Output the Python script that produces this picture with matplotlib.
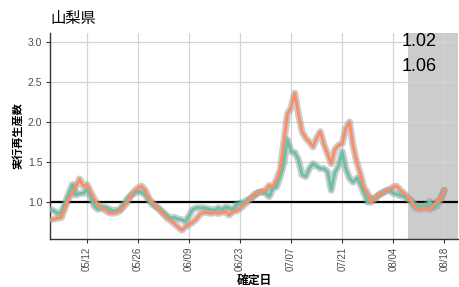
import matplotlib
matplotlib.use("Agg")
from matplotlib import pyplot as plt
import pandas as pd

plt.rcParams['font.family'] = ['Liberation Sans', 'Noto Sans CJK JP']

# daily values from 05/02 to 08/18
dates = pd.date_range("2022-05-02", "2022-08-18", freq="D")

rt_green = [0.91, 0.89, 0.86, 0.88, 0.98, 1.11, 1.22, 1.09, 1.11, 1.11,
            1.16, 1.06, 0.95, 0.91, 0.93, 0.94, 0.92, 0.89, 0.90, 0.91,
            0.97, 1.04, 1.08, 1.11, 1.13, 1.12, 1.09, 1.02, 0.97, 0.94,
            0.91, 0.87, 0.83, 0.80, 0.81, 0.79, 0.78, 0.76, 0.83, 0.91,
            0.93, 0.93, 0.93, 0.92, 0.91, 0.90, 0.93, 0.91, 0.94, 0.93,
            0.91, 0.97, 0.99, 1.00, 1.03, 1.05, 1.08, 1.12, 1.13, 1.11,
            1.07, 1.17, 1.19, 1.32, 1.48, 1.78, 1.63, 1.62, 1.53, 1.34,
            1.32, 1.42, 1.48, 1.45, 1.42, 1.42, 1.38, 1.15, 1.37, 1.45,
            1.63, 1.42, 1.30, 1.25, 1.30, 1.22, 1.11, 1.00, 1.05, 1.04,
            1.09, 1.11, 1.14, 1.15, 1.11, 1.10, 1.08, 1.07, 1.04, 1.02,
            0.96, 0.95, 0.95, 0.95, 1.01, 0.93, 0.95, 1.05, 1.15]

rt_orange = [0.78, 0.79, 0.80, 0.81, 0.93, 1.05, 1.11, 1.20, 1.29, 1.20,
             1.22, 1.13, 1.04, 0.97, 0.93, 0.90, 0.87, 0.86, 0.87, 0.89,
             0.94, 0.99, 1.08, 1.14, 1.18, 1.20, 1.15, 1.05, 0.99, 0.95,
             0.90, 0.85, 0.80, 0.77, 0.73, 0.69, 0.65, 0.69, 0.72, 0.75,
             0.79, 0.85, 0.87, 0.87, 0.86, 0.87, 0.86, 0.87, 0.88, 0.84,
             0.88, 0.89, 0.92, 0.96, 1.00, 1.05, 1.10, 1.12, 1.13, 1.15,
             1.21, 1.19, 1.28, 1.40, 1.75, 2.10, 2.18, 2.36, 2.10, 1.88,
             1.80, 1.75, 1.69, 1.80, 1.88, 1.72, 1.60, 1.48, 1.66, 1.71,
             1.73, 1.92, 2.00, 1.70, 1.50, 1.35, 1.18, 1.11, 1.00, 1.05,
             1.09, 1.12, 1.14, 1.16, 1.19, 1.20, 1.15, 1.11, 1.06, 1.01,
             0.93, 0.91, 0.92, 0.92, 0.91, 0.96, 1.01, 1.03, 1.15]

latest_values = ["1.02", "1.06"]

fig = plt.figure(figsize=(4.59, 2.87), dpi=100)
ax = fig.add_axes([0.109, 0.167, 0.889, 0.718])

x_start = pd.Timestamp("2022-05-02") - pd.Timedelta(hours=3)
x_end = pd.Timestamp("2022-08-21") + pd.Timedelta(hours=19)
ax.axvspan(pd.Timestamp("2022-08-08"), x_end, color='#cccccc', zorder=0.5, lw=0)

ax.axhline(1.0, color='black', lw=1.6, zorder=2)

# gray halo under each line, then the lines
for vals in [rt_green, rt_orange]:
    ax.plot(dates, vals, color='#999999', alpha=0.5, lw=5,
            solid_capstyle='round', zorder=3)
ax.plot(dates, rt_green, color='#66c2a5', lw=2.0, zorder=4)
ax.plot(dates, rt_orange, color='#fc8d62', lw=2.0, zorder=4)

ax.set_xlim(x_start, x_end)
ax.set_ylim(0.54, 3.11)

ticks = pd.date_range("2022-05-12", "2022-08-18", freq="14D")
ax.set_xticks(ticks)
ax.set_xticklabels([t.strftime("%m/%d") for t in ticks], rotation=90)
ax.set_yticks([1.0, 1.5, 2.0, 2.5, 3.0])
ax.set_yticklabels(["1.0", "1.5", "2.0", "2.5", "3.0"])

ax.grid(True, color='#d4d4d4', lw=0.9)
ax.set_axisbelow(True)
for s in ['top', 'right']:
    ax.spines[s].set_visible(False)
for s in ['left', 'bottom']:
    ax.spines[s].set_color('#333333')
    ax.spines[s].set_linewidth(1.0)
ax.tick_params(axis='both', colors='#333333', labelcolor='#4d4d4d',
               labelsize=7, length=3, width=0.8, pad=2.5)
ax.tick_params(axis='y', labelsize=7.5)

ax.set_xlabel("確定日", fontsize=8.5, fontweight='bold')
ax.xaxis.set_label_coords(0.5, -0.175)
ax.set_ylabel("実行再生産数", fontsize=8, fontweight='bold', labelpad=3)
ax.set_title("山梨県", loc='left', fontsize=11, pad=7)

ax.text(pd.Timestamp("2022-08-16"), 3.0, latest_values[0], ha='right',
        va='center', fontsize=13, color='black', zorder=5)
ax.text(pd.Timestamp("2022-08-16"), 2.69, latest_values[1], ha='right',
        va='center', fontsize=13, color='black', zorder=5)

fig.savefig("out.png", dpi=100)
